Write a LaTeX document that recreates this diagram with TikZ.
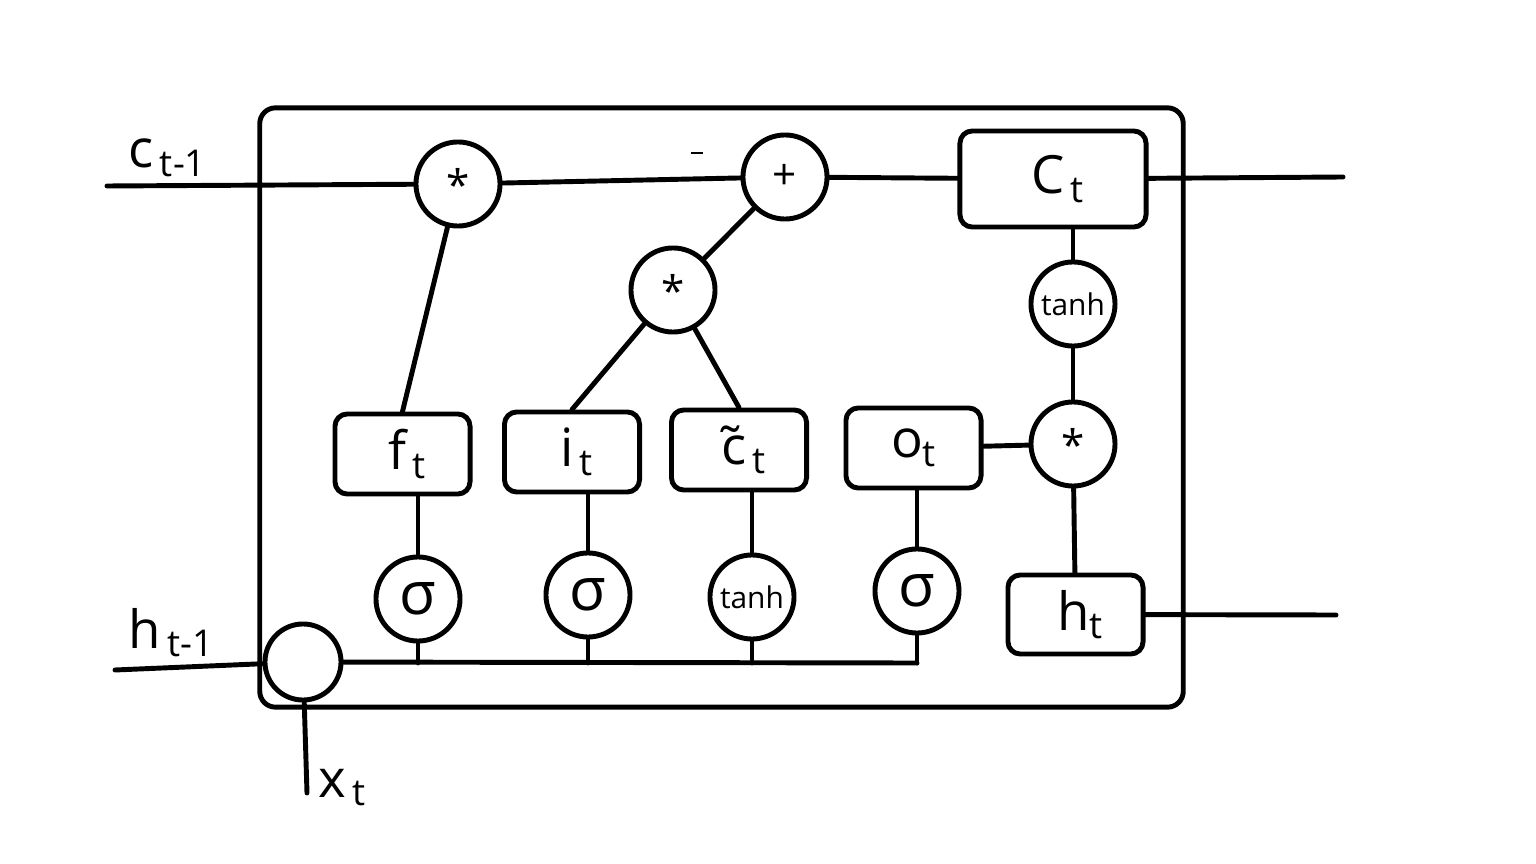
\documentclass[tikz,border=0pt]{standalone}
\usepackage{fontspec}
\setmainfont{Open Sans}
\usetikzlibrary{positioning, calc}
\newcommand{\lowsub}[1]{\raisebox{-0.3ex}{\fontsize{10.5}{12}\selectfont #1}}
\tikzset{
  wire/.style={line width=1.4pt, line cap=round},
  cellframe/.style={
    rectangle, rounded corners=4.5pt,
    draw, line width=1.4pt, inner sep=0pt
  },
  gate/.style={
    rectangle, rounded corners=3.5pt,
    draw, line width=1.4pt,
    minimum width=1.35cm, minimum height=0.8cm,
    inner sep=0pt, font=\fontsize{15}{17}\selectfont
  },
  op/.style={
    circle, draw, line width=1.4pt,
    minimum size=0.84cm, inner sep=0pt,
    font=\fontsize{12}{14}\selectfont
  },
  actop/.style={op, font=\fontsize{8.5}{10}\selectfont},
  sigop/.style={op, font=\fontsize{17}{19}\selectfont},
  lbl/.style={inner sep=0pt, font=\fontsize{15}{17}\selectfont}
}

\begin{document}
\begin{tikzpicture}[x=0.01cm, y=-0.01cm]
\useasboundingbox (0,0) rectangle (1536,864);
% cell frame
\node[cellframe, minimum width=9.23cm, minimum height=5.99cm] (cell) at (721.5,407.5) {};
% top row: cell state
\node[op] (mulf) at (458,184) {*};
\node[op] (plus) at (785,177) {+};
\node[gate, minimum width=1.86cm, minimum height=0.96cm] (Ct) at (1053,179) {\,C\lowsub{\,t}};
\node[op] (muli) at (673,290) {*};
\node[actop] (tanhc) at (1073,304) {tanh};
\node[op] (mulo) at (1073,444) {*};
% gates
\node[gate] (ft) at (402.5,454) {\,f\lowsub{\,t}};
\node[gate] (it) at (572,452) {\,i\lowsub{\,t}};
\node[gate] (ctil) at (739,450) {\,\~{c}\lowsub{\,t}};
\node[gate] (ot) at (913.5,448) {o\lowsub{t}};
\node[gate, minimum height=0.79cm] (ht) at (1075.5,614.5) {\,h\lowsub{t}};
% activations
\node[sigop] (sigf) at (418,599) {σ};
\node[sigop] (sigi) at (588,595) {σ};
\node[actop] (tanhg) at (752,597) {tanh};
\node[sigop] (sigo) at (917,591) {σ};
% input junction
\node[op, minimum size=0.76cm] (hx) at (303,662) {};
% free ends
\coordinate (cin) at (107,186);
\coordinate (cout) at (1343,177);
\coordinate (hin) at (115,670);
\coordinate (hout) at (1336,615);
\coordinate (xin) at (307,793);
\coordinate (busend) at (917,663);
% labels
\node[lbl, anchor=base west] (lcin) at (128,168) {c\lowsub{\,t-1}};
\node[lbl, anchor=base west] (lhin) at (128,648) {h\lowsub{\,t-1}};
\node[lbl, anchor=base west] (lxin) at (318,797) {x\lowsub{\,t}};
% cell state path
\draw[wire] (cin) -- (mulf);
\draw[wire] (mulf) -- (plus);
\draw[wire] (plus) -- (Ct);
\draw[wire] (Ct) -- (cout);
\draw[line width=0.4pt] (691,153) -- (703,153);
% gates to products
\draw[wire] (ft.north) -- (mulf);
\draw[wire] (it.north) -- (muli);
\draw[wire] (ctil.north) -- (muli);
\draw[wire] (muli) -- (plus);
\draw[wire] (tanhc) -- (tanhc |- Ct.south);
\draw[wire] (tanhc) -- (mulo);
\draw[wire] (ot) -- (mulo);
\draw[wire] (mulo) -- (ht);
\draw[wire] (ht) -- (hout);
% activations to gates
\draw[wire] (sigf) -- (sigf |- ft.south);
\draw[wire] (sigi) -- (sigi |- it.south);
\draw[wire] (tanhg) -- (tanhg |- ctil.south);
\draw[wire] (sigo) -- (sigo |- ot.south);
% input bus
\draw[wire] (hin) -- (hx);
\draw[wire] (xin) -- (hx);
\draw[wire] (hx) -- (busend);
\draw[wire] (sigf) -- (sigf |- busend);
\draw[wire] (sigi) -- (sigi |- busend);
\draw[wire] (tanhg) -- (tanhg |- busend);
\draw[wire] (sigo) -- (busend);
\end{tikzpicture}
\end{document}
